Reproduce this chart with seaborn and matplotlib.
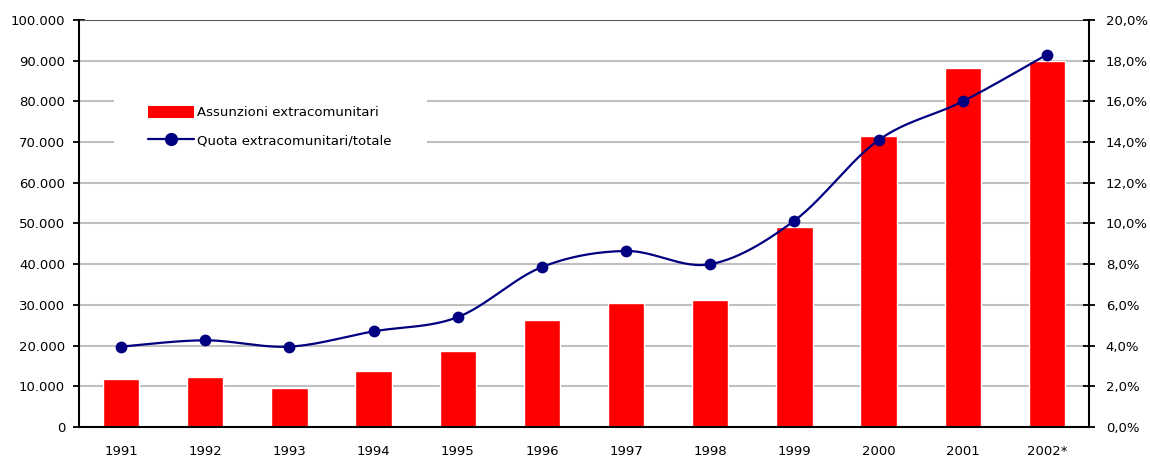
import matplotlib.pyplot as plt
import matplotlib.ticker as mticker
from matplotlib.lines import Line2D
from matplotlib.patches import Patch, Rectangle
import seaborn as sns
import numpy as np
import pandas as pd

# data
years = ["1991", "1992", "1993", "1994", "1995", "1996",
         "1997", "1998", "1999", "2000", "2001", "2002*"]
assunzioni = [11700, 12200, 9700, 13800, 18600, 26300,
              30500, 31200, 49200, 71500, 88100, 89900]
quota = [3.95, 4.26, 3.95, 4.7, 5.4, 7.86,
         8.65, 8.0, 10.14, 14.1, 16.0, 18.3]

BAR_COLOR = "#FF0000"
LINE_COLOR = "#000080"


def smooth_curve(x, y, n=30):
    """Excel-like smoothed line: Catmull-Rom converted to cubic Bezier"""
    x = np.asarray(x, float)
    y = np.asarray(y, float)
    pts = np.column_stack([x, y])
    out = []
    for i in range(len(pts) - 1):
        p0 = pts[i - 1] if i > 0 else pts[i]
        p1 = pts[i]
        p2 = pts[i + 1]
        p3 = pts[i + 2] if i + 2 < len(pts) else pts[i + 1]
        c1 = p1 + (p2 - p0) / 6
        c2 = p2 - (p3 - p1) / 6
        t = np.linspace(0, 1, n)[:, None]
        seg = ((1 - t) ** 3 * p1 + 3 * (1 - t) ** 2 * t * c1
               + 3 * (1 - t) * t ** 2 * c2 + t ** 3 * p2)
        out.append(seg if i == 0 else seg[1:])
    out = np.vstack(out)
    return out[:, 0], out[:, 1]


sns.set_theme(style="white")
plt.rcParams['font.family'] = ['DejaVu Sans']
plt.rcParams['font.size'] = 9.5
plt.rcParams['text.color'] = 'black'
plt.rcParams['xtick.color'] = 'black'
plt.rcParams['ytick.color'] = 'black'

df = pd.DataFrame({"anno": years, "assunzioni": assunzioni, "quota": quota})

fig = plt.figure(figsize=(11.5, 4.59), dpi=100)
ax = fig.add_axes([79 / 1150, 32 / 459, 1010 / 1150, 407 / 459])

sns.barplot(data=df, x="anno", y="assunzioni", color=BAR_COLOR,
            saturation=1, width=0.43, ax=ax, zorder=2)

ax.set_xlim(-0.5, len(years) - 0.5)
ax.set_ylim(0, 100000)
ax.set_yticks(np.arange(0, 100001, 10000))
ax.yaxis.set_major_formatter(mticker.FuncFormatter(
    lambda v, p: f"{int(v):,}".replace(",", ".")))
ax.set_xlabel("")
ax.set_ylabel("")

# gridlines
for v in range(10000, 100000, 10000):
    ax.axhline(v, color="#C0C0C0", lw=1.5, zorder=1)
ax.axhline(100000, color="#555555", lw=1.5, zorder=1)

# category ticks between the bars, labels centred
ax.set_xticks(np.arange(-0.5, len(years), 1.0))
ax.set_xticklabels([])
ax.set_xticks(np.arange(len(years)), minor=True)
ax.set_xticklabels(years, minor=True)
ax.tick_params(axis="x", which="minor", length=0, pad=13, labelsize=9.5)
ax.tick_params(axis="x", which="major", direction="inout", length=8,
               width=1.3, color="black")
ax.tick_params(axis="y", direction="inout", length=8, width=1.3,
               color="black", labelsize=9.5, pad=6)

for side in ["top", "right"]:
    ax.spines[side].set_visible(False)
for side in ["left", "bottom"]:
    ax.spines[side].set_color("black")
    ax.spines[side].set_linewidth(1.5)

# right axis for the share line
ax2 = ax.twinx()
ax2.set_ylim(0, 20)
ax2.set_yticks(np.arange(0, 20.1, 2))
ax2.yaxis.set_major_formatter(mticker.FuncFormatter(
    lambda v, p: f"{v:.1f}%".replace(".", ",")))
ax2.tick_params(axis="y", direction="inout", length=8, width=1.3,
                color="black", labelsize=9.5, pad=8)
for side in ["top", "left", "bottom"]:
    ax2.spines[side].set_visible(False)
ax2.spines["right"].set_color("black")
ax2.spines["right"].set_linewidth(1.5)

xs = np.arange(len(years))
sx, sy = smooth_curve(xs, quota)
ax2.plot(sx, sy, color=LINE_COLOR, lw=1.6, zorder=3)
sns.scatterplot(x=xs, y=quota, ax=ax2, color=LINE_COLOR, s=72,
                edgecolor=LINE_COLOR, linewidth=0, zorder=4)
ax2.set_ylabel("")

# white legend area (Excel legend box without border)
ax2.add_patch(Rectangle((0.0347, 0.636), 0.31, 0.221,
                        transform=ax2.transAxes, facecolor="white",
                        edgecolor="none", zorder=9))

handles = [Patch(facecolor=BAR_COLOR, edgecolor="none"),
           Line2D([0], [0], color=LINE_COLOR, lw=1.6, marker="o",
                  markersize=8.5)]
leg = ax2.legend(handles, ["Assunzioni extracomunitari",
                           "Quota extracomunitari/totale"],
                 loc="upper left", bbox_to_anchor=(0.0683, 0.789),
                 frameon=False, fontsize=9.5,
                 handlelength=3.5, handleheight=1.0, handletextpad=0.25,
                 labelspacing=1.1, borderpad=0, borderaxespad=0)
leg.set_zorder(10)

fig.savefig("out.png", dpi=100)
